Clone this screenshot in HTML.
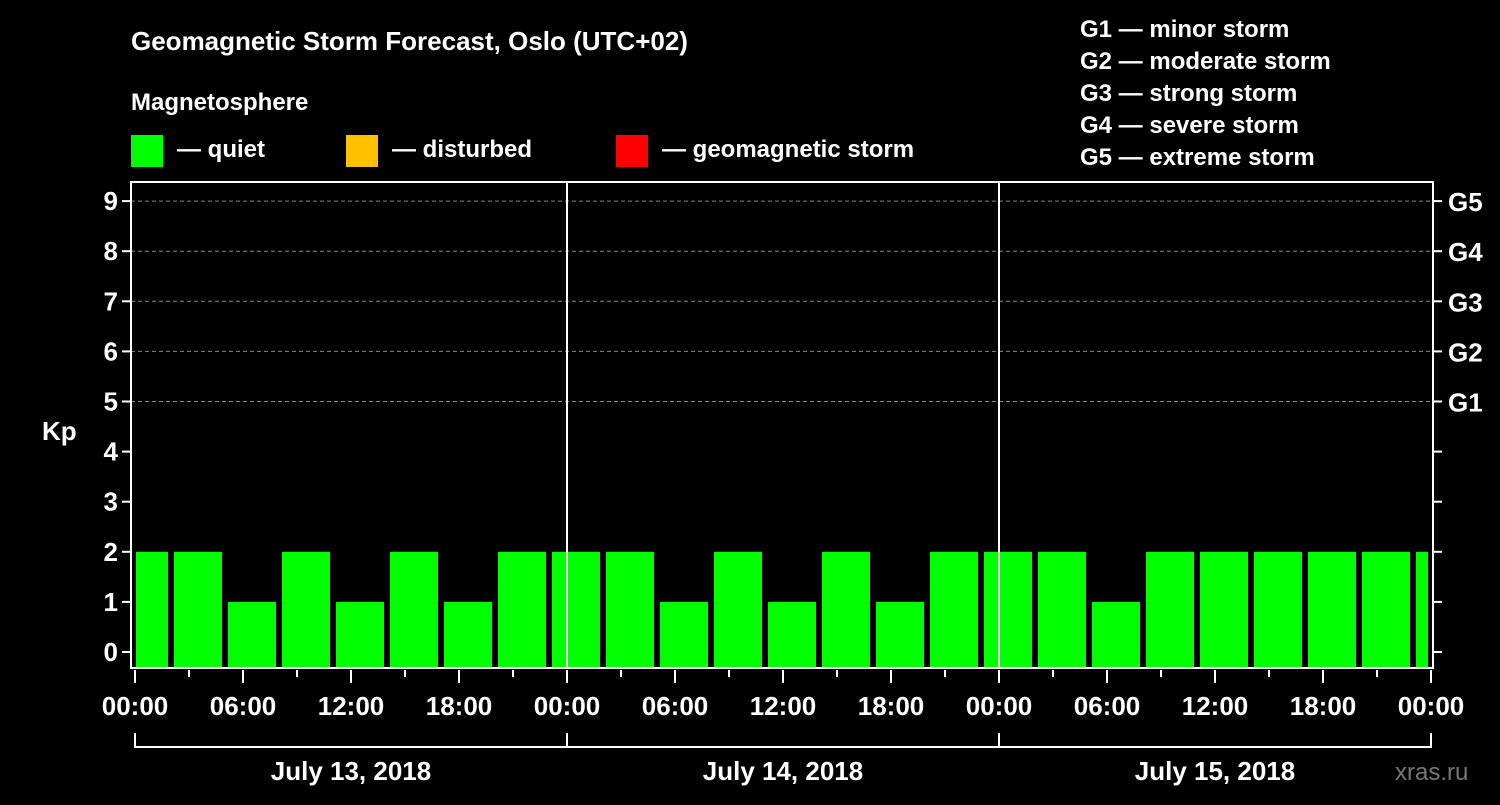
<!DOCTYPE html>
<html><head><meta charset="utf-8"><style>
body{margin:0;background:#000;width:1500px;height:800px;overflow:hidden;font-family:"Liberation Sans",sans-serif}
svg text{font-family:"Liberation Sans",sans-serif;font-weight:bold;fill:#fff}
</style></head><body>
<svg id="c" width="1500" height="800" xmlns="http://www.w3.org/2000/svg">
<text x="131" y="50" font-size="26">Geomagnetic Storm Forecast, Oslo (UTC+02)</text>
<text x="131" y="110" font-size="24">Magnetosphere</text>
<g>
<rect x="131" y="135" width="32" height="32" fill="#00ff00"/>
<text x="177" y="157" font-size="24">— quiet</text>
<rect x="346" y="135" width="32" height="32" fill="#ffc000"/>
<text x="392" y="157" font-size="24">— disturbed</text>
<rect x="616" y="135" width="32" height="32" fill="#ff0000"/>
<text x="662" y="157" font-size="24">— geomagnetic storm</text>
</g>
<g font-size="24">
<text x="1080" y="37">G1 — minor storm</text>
<text x="1080" y="69">G2 — moderate storm</text>
<text x="1080" y="101">G3 — strong storm</text>
<text x="1080" y="133">G4 — severe storm</text>
<text x="1080" y="165">G5 — extreme storm</text>
</g>
<text x="42" y="440" font-size="26">Kp</text>
<text x="1395" y="780" font-size="24" style="fill:#777;font-weight:normal">xras.ru</text>
<g id="grid"></g><g id="bars"></g><g id="axes"></g>
</svg>
<script>
const values=[2,2,1,2,1,2,1,2,2,2,1,2,1,2,1,2,2,2,1,2,2,2,2,2,2];
const yTicks=[0,1,2,3,4,5,6,7,8,9];
const gLabels=["G1","G2","G3","G4","G5"];
const gLevels=[5,6,7,8,9];
const xLabels=["00:00","06:00","12:00","18:00","00:00","06:00","12:00","18:00","00:00","06:00","12:00","18:00","00:00"];
const dayLabels=["July 13, 2018","July 14, 2018","July 15, 2018"];
const NS="http://www.w3.org/2000/svg";
const L=131,R=1433,T=182,B=668,x0=135,hourPx=18;
const y=v=>652-v*50.1;
const x=h=>x0+h*hourPx;
function mk(tag,attrs,parent,text){const e=document.createElementNS(NS,tag);for(const k in attrs)e.setAttribute(k,attrs[k]);if(text!==undefined)e.textContent=text;document.getElementById(parent).appendChild(e);return e;}
yTicks.forEach(v=>{if(v>=5){const g=mk('line',{x1:L,x2:R,y1:y(v),y2:y(v),stroke:'#888','stroke-dasharray':'4,3','stroke-width':1},'grid');}});
values.forEach((v,i)=>{let l=x(i*3)-15,r=l+48;l=Math.max(l,L+5);r=Math.min(r,R-5);
const b=mk('rect',{x:l,y:y(v),width:r-l,height:B-y(v),fill:v>=5?'#ff0000':(v>=4?'#ffc000':'#00ff00')},'bars');
});
const f=mk('rect',{x:L,y:T,width:R-L,height:B-T,fill:'none',stroke:'#fff','stroke-width':2},'axes');

[1,2].forEach(d=>{const s=mk('line',{x1:x(d*24),x2:x(d*24),y1:T,y2:B,stroke:'#fff','stroke-width':2},'axes');});
yTicks.forEach(v=>{mk('line',{x1:L-9,x2:L,y1:y(v),y2:y(v),stroke:'#fff','stroke-width':2},'axes');
mk('line',{x1:R,x2:R+9,y1:y(v),y2:y(v),stroke:'#fff','stroke-width':2},'axes');
const t=mk('text',{x:L-13,y:y(v)+9,'text-anchor':'end','font-size':26},'axes',v);});
gLevels.forEach((v,i)=>{const t=mk('text',{x:R+15,y:y(v)+10,'font-size':26},'axes',gLabels[i]);});
for(let h=0;h<=72;h+=3){const big=h%6==0;mk('line',{x1:x(h),x2:x(h),y1:B+2,y2:B+(big?15:9),stroke:'#fff','stroke-width':2},'axes');}
xLabels.forEach((s,i)=>{const t=mk('text',{x:x(i*6),y:715,'text-anchor':'middle','font-size':26},'axes',s);});
const br=mk('path',{d:`M${x(0)},733V747H${x(72)}V733M${x(24)},733V747M${x(48)},733V747`,stroke:'#fff','stroke-width':2,fill:'none'},'axes');

dayLabels.forEach((s,i)=>{const t=mk('text',{x:x(i*24+12),y:780,'text-anchor':'middle','font-size':26},'axes',s);});
</script>
</body></html>
